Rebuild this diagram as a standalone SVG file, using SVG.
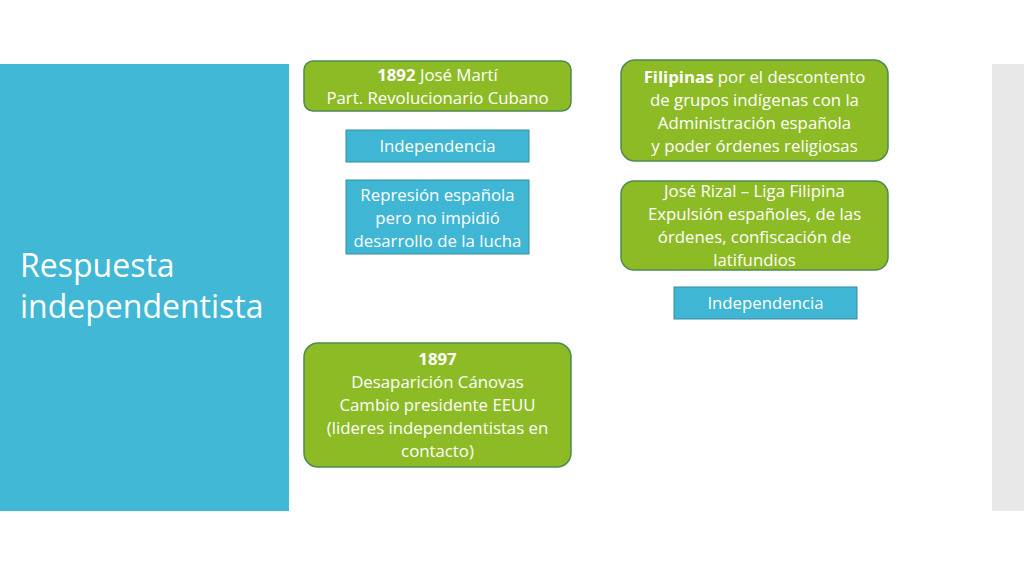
<svg xmlns="http://www.w3.org/2000/svg" width="1024" height="576" viewBox="0 0 1024 576">
<style>
text{font-family:"Open Sans","Liberation Sans",sans-serif;fill:#fff;text-anchor:middle;font-size:16.8px}
.g{fill:#8dbb26;stroke:#4e8a52;stroke-width:1.5}
.b{fill:#3fb6d3;stroke:#3a8aa6;stroke-width:1}
.t{font-size:32px;text-anchor:start}
.bd{font-weight:bold}
</style>
<rect x="0" y="0" width="1024" height="576" fill="#fff"/>
<rect x="0" y="64" width="289" height="447" fill="#41b8d5"/>
<rect x="992" y="64" width="32" height="447" fill="#e8e8e8"/>
<g id="title">
<text class="t" x="20" y="277">Respuesta</text>
<text class="t" x="20" y="318">independentista</text>
</g>
<g id="connectors"></g>
<g id="n1892">
<rect class="g" x="304" y="61" width="267" height="50" rx="9"/>
<text x="437.5" y="81"><tspan class="bd">1892</tspan> José Martí</text>
<text x="437.5" y="104">Part. Revolucionario Cubano</text>
</g>
<g id="indep1">
<rect class="b" x="346" y="130" width="183" height="32"/>
<text x="437.5" y="152">Independencia</text>
</g>
<g id="represion">
<rect class="b" x="346" y="180" width="183" height="74"/>
<text x="437.5" y="201">Represión española</text>
<text x="437.5" y="224">pero no impidió</text>
<text x="437.5" y="247">desarrollo de la lucha</text>
</g>
<g id="n1897">
<rect class="g" x="304" y="343" width="267" height="124" rx="14"/>
<text x="437.5" y="365" class="bd">1897</text>
<text x="437.5" y="388">Desaparición Cánovas</text>
<text x="437.5" y="411">Cambio presidente EEUU</text>
<text x="437.5" y="434">(lideres independentistas en</text>
<text x="437.5" y="457">contacto)</text>
</g>
<g id="filipinas">
<rect class="g" x="621" y="60" width="267" height="101" rx="14"/>
<text x="754.5" y="83"><tspan class="bd">Filipinas</tspan> por el descontento</text>
<text x="754.5" y="106">de grupos indígenas con la</text>
<text x="754.5" y="129">Administración española</text>
<text x="754.5" y="152">y poder órdenes religiosas</text>
</g>
<g id="rizal">
<rect class="g" x="621" y="181" width="267" height="89" rx="13"/>
<text x="754.5" y="197">José Rizal – Liga Filipina</text>
<text x="754.5" y="220">Expulsión españoles, de las</text>
<text x="754.5" y="243">órdenes, confiscación de</text>
<text x="754.5" y="266">latifundios</text>
</g>
<g id="indep2">
<rect class="b" x="674" y="287" width="183" height="32"/>
<text x="765.5" y="309">Independencia</text>
</g>
</svg>
